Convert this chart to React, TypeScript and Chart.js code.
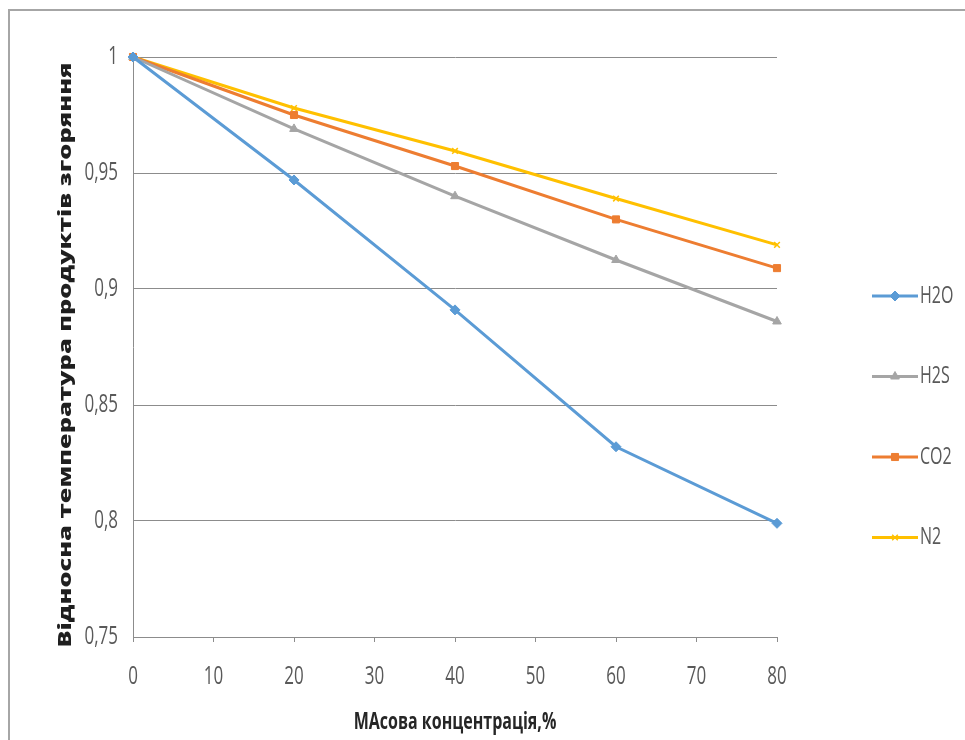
import React, { useEffect, useRef } from "react";
import { Chart, registerables } from "chart.js";
import { drawPoint } from "chart.js/helpers";

Chart.register(...registerables);

// Mass concentration of the admixture, %
const concentration = [0, 20, 40, 60, 80];

// Relative temperature of combustion products for each admixture
const h2o = [1, 0.947, 0.891, 0.832, 0.799];
const h2s = [1, 0.969, 0.94, 0.9125, 0.886];
const co2 = [1, 0.975, 0.953, 0.93, 0.909];
const n2 = [1, 0.978, 0.9595, 0.939, 0.919];

const seriesNames = ["H2O", "H2S", "CO2", "N2"];
const seriesColors = ["#5B9BD5", "#A5A5A5", "#ED7D31", "#FFC000"];
const seriesMarkers = ["rectRot", "triangle", "rect", "crossRot"];

const xTitle = "МАсова концентрація,%";
const yTitle = "Відносна температура продуктів згоряння";

const X_MIN = 0;
const X_MAX = 80;
const X_STEP = 10;
const Y_MIN = 0.75;
const Y_MAX = 1;
const Y_STEP = 0.05;

const AXIS_GRAY = "#8C8C8C";
const TEXT_GRAY = "#595959";
const FONT_FAMILY = "'Open Sans', 'Noto Sans', 'DejaVu Sans', sans-serif";
const STRETCH = 1.5;

type TextOpts = {
  font: string;
  color: string;
  align: CanvasTextAlign;
  baseline?: CanvasTextBaseline;
  sx?: number;
  sy?: number;
  rot?: number;
};

function drawText(ctx: CanvasRenderingContext2D, text: string, x: number, y: number, o: TextOpts) {
  ctx.save();
  ctx.translate(x, y);
  if (o.rot) ctx.rotate(o.rot);
  ctx.scale(o.sx ?? 1, o.sy ?? 1);
  ctx.font = o.font;
  ctx.fillStyle = o.color;
  ctx.textAlign = o.align;
  ctx.textBaseline = o.baseline ?? "middle";
  ctx.fillText(text, 0, 0);
  ctx.restore();
}

function fmt(v: number) {
  return String(Number(v.toFixed(2))).replace(".", ",");
}

// Tick labels, axis titles and the legend, drawn with a tall text stretch
const textPlugin = {
  id: "stretchedText",
  afterDraw(chart: any) {
    const ctx: CanvasRenderingContext2D = chart.ctx;
    const xs = chart.scales.x;
    const ys = chart.scales.y;
    const area = chart.chartArea;

    const tickFont = `17px ${FONT_FAMILY}`;
    ys.ticks.forEach((t: any) => {
      drawText(ctx, fmt(t.value), area.left - 15, ys.getPixelForValue(t.value), {
        font: tickFont,
        color: TEXT_GRAY,
        align: "right",
        sy: STRETCH,
      });
    });
    xs.ticks.forEach((t: any) => {
      drawText(ctx, fmt(t.value), xs.getPixelForValue(t.value), area.bottom + 40, {
        font: tickFont,
        color: TEXT_GRAY,
        align: "center",
        sy: STRETCH,
      });
    });

    // axis titles
    const titleFont = `bold 16px ${FONT_FAMILY}`;
    drawText(ctx, xTitle, (area.left + area.right) / 2, area.bottom + 85, {
      font: titleFont,
      color: "#262626",
      align: "center",
      sy: STRETCH,
    });
    const yFont = `800 17px ${FONT_FAMILY}`;
    ctx.save();
    ctx.font = yFont;
    const yLen = ctx.measureText(yTitle).width;
    ctx.restore();
    drawText(ctx, yTitle, 66, 355, {
      font: yFont,
      color: "#1F1F1F",
      align: "center",
      rot: -Math.PI / 2,
      sx: 585 / yLen,
    });

    // legend
    const legendTop = 296;
    const legendGap = 80.5;
    chart.data.datasets.forEach((ds: any, i: number) => {
      const y = legendTop + i * legendGap;
      ctx.save();
      ctx.strokeStyle = ds.borderColor;
      ctx.lineWidth = 3;
      ctx.beginPath();
      ctx.moveTo(872, y);
      ctx.lineTo(918, y);
      ctx.stroke();
      ctx.fillStyle = ds.pointBackgroundColor;
      ctx.strokeStyle = ds.pointBorderColor;
      ctx.lineWidth = ds.pointBorderWidth;
      drawPoint(ctx, { pointStyle: ds.pointStyle, radius: ds.pointRadius, borderWidth: ds.pointBorderWidth, rotation: 0 }, 895, y);
      ctx.restore();
      drawText(ctx, ds.label, 920, y, {
        font: `16px ${FONT_FAMILY}`,
        color: TEXT_GRAY,
        align: "left",
        sy: STRETCH,
      });
    });
  },
};

export default function App() {
  const canvasRef = useRef<HTMLCanvasElement | null>(null);

  useEffect(() => {
    const canvas = canvasRef.current;
    if (!canvas) return;
    const all = [h2o, h2s, co2, n2];
    const datasets = all.map((vals, i) => ({
      label: seriesNames[i],
      data: concentration.map((c, j) => ({ x: c, y: vals[j] })),
      borderColor: seriesColors[i],
      backgroundColor: seriesColors[i],
      pointBackgroundColor: seriesColors[i],
      pointBorderColor: seriesColors[i],
      pointStyle: seriesMarkers[i],
      pointRadius: seriesMarkers[i] === "crossRot" ? 4 : 5,
      pointBorderWidth: seriesMarkers[i] === "crossRot" ? 1.5 : 1,
      borderWidth: 3,
      tension: 0,
      clip: false as any,
    }));

    const chart = new Chart(canvas, {
      type: "line",
      data: { datasets },
      options: {
        animation: false,
        responsive: false,
        maintainAspectRatio: false,
        layout: { padding: { left: 133, right: 188, top: 57, bottom: 98 } },
        plugins: {
          legend: { display: false },
          tooltip: { enabled: false },
        },
        scales: {
          x: {
            type: "linear",
            min: X_MIN,
            max: X_MAX,
            ticks: { stepSize: X_STEP, display: false },
            grid: {
              drawOnChartArea: false,
              drawTicks: true,
              tickLength: 5,
              color: AXIS_GRAY,
              lineWidth: 1,
            },
            border: { display: true, color: AXIS_GRAY, width: 1 },
          },
          y: {
            type: "linear",
            min: Y_MIN,
            max: Y_MAX,
            ticks: { stepSize: Y_STEP, display: false },
            grid: {
              drawOnChartArea: true,
              drawTicks: false,
              color: AXIS_GRAY,
              lineWidth: 1,
            },
            border: { display: true, color: AXIS_GRAY, width: 1 },
          },
        },
      },
      plugins: [textPlugin],
    });
    return () => chart.destroy();
  }, []);

  return (
    <div style={{ position: "fixed", left: 0, top: 0, width: 965, height: 740, background: "#fff", overflow: "hidden" }}>
      <div
        style={{
          position: "absolute",
          left: 8,
          top: 9,
          width: 1000,
          height: 800,
          borderLeft: "2px solid #A6A6A6",
          borderTop: "2px solid #A6A6A6",
        }}
      />
      <canvas ref={canvasRef} width={965} height={740} style={{ position: "absolute", left: 0, top: 0 }} />
    </div>
  );
}
